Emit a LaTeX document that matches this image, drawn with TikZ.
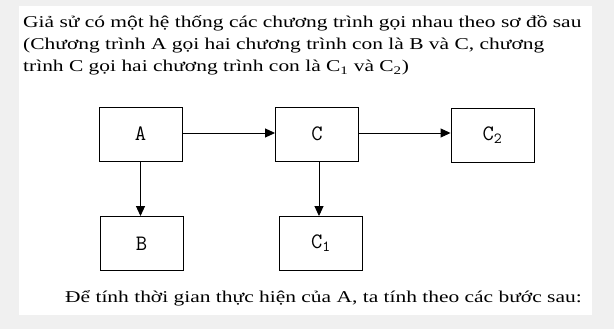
\documentclass[tikz,border=0pt]{standalone}
\usepackage{fontspec}
\setmainfont{Liberation Serif}[FakeStretch=1.3]
\usetikzlibrary{arrows.meta}
\definecolor{bggray}{RGB}{240,240,240}
\begin{document}
\begin{tikzpicture}[x=1pt,y=-1pt,
  blk/.style={draw=black,line width=0.9pt,minimum width=83pt,minimum height=54pt,inner sep=0pt,font=\ttfamily\fontsize{22}{22}\selectfont},
  conn/.style={line width=0.9pt,-{Triangle[length=10pt,width=9pt]}},
  txt/.style={anchor=base west,inner sep=0pt,font=\fontsize{16.5}{16.5}\selectfont}]
\fill[bggray] (0,0) rectangle (614,329);
\useasboundingbox (0,0) rectangle (614,329);
\fill[white] (19,6) rectangle (592,315);
\node[txt] (l1) at (23,28) {Giả sử có một hệ thống các chương trình gọi nhau theo sơ đồ sau};
\node[txt] (l2) at (23,50) {(Chương trình A gọi hai chương trình con là B và C, chương};
\node[txt] (l3) at (23,72) {trình C gọi hai chương trình con là C\textsubscript{1} và C\textsubscript{2})};
\node[txt] (l4) at (65,302) {Để tính thời gian thực hiện của A, ta tính theo các bước sau:};
\node[blk] (A) at (140.5,134) {A};
\node[blk] (C) at (317,134) {C};
\node[blk] (C2) at (492.5,135.5) {C\textsubscript{2}};
\node[blk] (B) at (141.5,243.5) {B};
\node[blk] (C1) at (321,243.5) {C\textsubscript{1}};
\draw[conn] ([yshift=1pt]A.east) -- ([yshift=1pt]A.east -| C.west);
\draw[conn] ([yshift=1pt]C.east) -- ([yshift=1pt]C.east -| C2.west);
\draw[conn] (A.south) -- (A.south |- B.north);
\draw[conn] ([xshift=2pt]C.south) -- ([xshift=2pt]C.south |- C1.north);
\end{tikzpicture}
\end{document}
